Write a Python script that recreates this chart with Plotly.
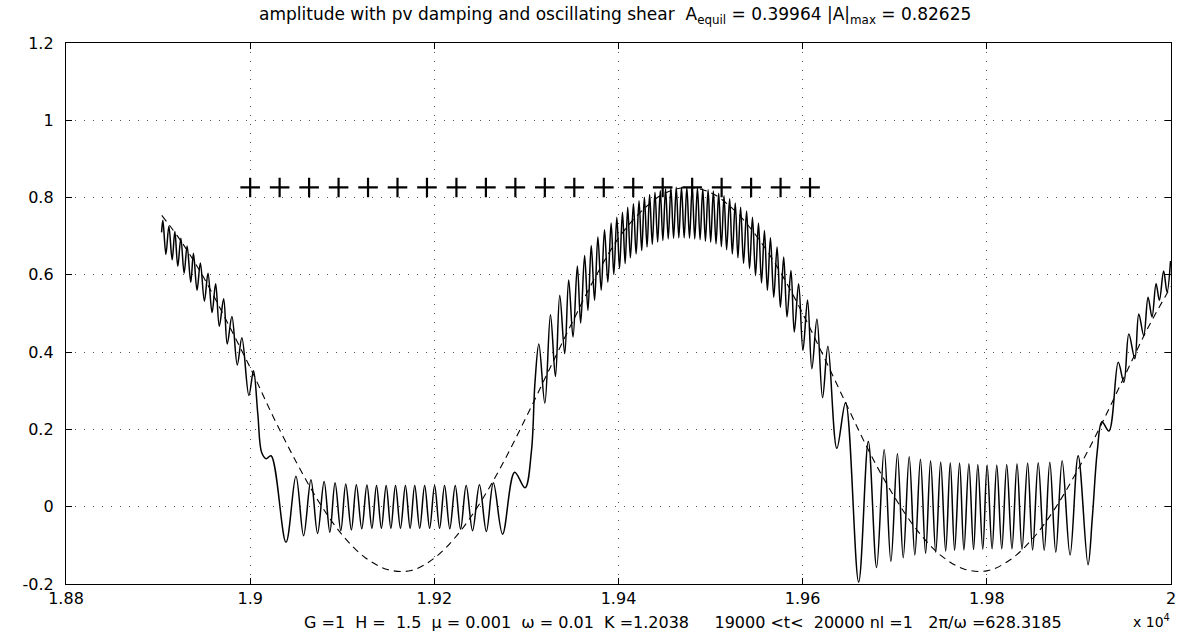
import plotly.graph_objects as go

# ---- data (time in units of 1e4) ----
amp_t = [
    1.89038, 1.89052, 1.89085, 1.89117, 1.89153, 1.89182, 1.89214, 1.89247, 1.89283, 1.89315,
    1.89355, 1.89384, 1.89423, 1.89459, 1.89503, 1.89542, 1.89586, 1.89625, 1.89665, 1.89712,
    1.89751, 1.89802, 1.89860, 1.89910, 1.89986, 1.90036, 1.90083, 1.90125, 1.90173, 1.90227,
    1.90389, 1.90497, 1.90580, 1.90660, 1.90732, 1.90803, 1.90865, 1.90922, 1.90984, 1.91038,
    1.91099, 1.91153, 1.91212, 1.91268, 1.91322, 1.91372, 1.91425, 1.91477, 1.91528, 1.91578,
    1.91632, 1.91686, 1.91737, 1.91787, 1.91841, 1.91895, 1.91949, 1.92003, 1.92057, 1.92111,
    1.92168, 1.92227, 1.92285, 1.92346, 1.92415, 1.92490, 1.92565, 1.92641, 1.92741, 1.92872,
    1.92985, 1.93055, 1.93092, 1.93135, 1.93200, 1.93261, 1.93315, 1.93362, 1.93416, 1.93459,
    1.93506, 1.93553, 1.93589, 1.93632, 1.93668, 1.93704, 1.93740, 1.93776, 1.93812, 1.93848,
    1.93884, 1.93920, 1.93949, 1.93982, 1.94011, 1.94043, 1.94072, 1.94100, 1.94129, 1.94162,
    1.94191, 1.94223, 1.94252, 1.94281, 1.94310, 1.94338, 1.94367, 1.94396, 1.94425, 1.94454,
    1.94482, 1.94511, 1.94540, 1.94569, 1.94598, 1.94627, 1.94655, 1.94684, 1.94713, 1.94742,
    1.94771, 1.94800, 1.94828, 1.94857, 1.94886, 1.94915, 1.94944, 1.94973, 1.95001, 1.95030,
    1.95059, 1.95088, 1.95117, 1.95146, 1.95174, 1.95207, 1.95236, 1.95268, 1.95297, 1.95326,
    1.95358, 1.95391, 1.95423, 1.95455, 1.95488, 1.95520, 1.95553, 1.95585, 1.95617, 1.95650,
    1.95686, 1.95722, 1.95758, 1.95794, 1.95830, 1.95873, 1.95909, 1.95956, 1.96003, 1.96053,
    1.96100, 1.96155, 1.96216, 1.96274, 1.96371, 1.96466, 1.96608, 1.96713, 1.96803, 1.96885,
    1.96958, 1.97029, 1.97092, 1.97157, 1.97218, 1.97279, 1.97335, 1.97389, 1.97445, 1.97499,
    1.97553, 1.97603, 1.97650, 1.97704, 1.97751, 1.97805, 1.97856, 1.97902, 1.97956, 1.98003,
    1.98057, 1.98108, 1.98162, 1.98216, 1.98273, 1.98328, 1.98382, 1.98443, 1.98497, 1.98558,
    1.98623, 1.98684, 1.98749, 1.98818, 1.98904, 1.98992, 1.99099, 1.99146, 1.99200, 1.99250,
    1.99326, 1.99427, 1.99488, 1.99542, 1.99607, 1.99650, 1.99704, 1.99751, 1.99794, 1.99838,
    1.99874, 1.99920, 1.99957, 1.99995,
]
amp_val = [
    0.710, 0.741, 0.653, 0.726, 0.639, 0.712, 0.622, 0.695, 0.604, 0.675,
    0.581, 0.656, 0.560, 0.631, 0.532, 0.604, 0.502, 0.577, 0.467, 0.538,
    0.421, 0.492, 0.367, 0.437, 0.288, 0.352, 0.240, 0.140, 0.124, 0.132,
    -0.092, 0.079, -0.075, 0.070, -0.069, 0.065, -0.066, 0.062, -0.062, 0.059,
    -0.060, 0.057, -0.057, 0.056, -0.056, 0.055, -0.056, 0.055, -0.056, 0.055,
    -0.056, 0.055, -0.056, 0.055, -0.056, 0.055, -0.056, 0.055, -0.056, 0.055,
    -0.057, 0.055, -0.058, 0.055, -0.062, 0.057, -0.064, 0.062, -0.071, 0.089,
    0.049, 0.145, 0.318, 0.421, 0.268, 0.497, 0.337, 0.547, 0.396, 0.587,
    0.439, 0.623, 0.475, 0.650, 0.508, 0.676, 0.534, 0.698, 0.560, 0.717,
    0.581, 0.734, 0.601, 0.749, 0.616, 0.762, 0.629, 0.775, 0.644, 0.784,
    0.654, 0.792, 0.663, 0.801, 0.672, 0.808, 0.679, 0.814, 0.685, 0.818,
    0.689, 0.823, 0.693, 0.825, 0.695, 0.827, 0.696, 0.827, 0.696, 0.827,
    0.695, 0.827, 0.693, 0.825, 0.691, 0.823, 0.687, 0.820, 0.685, 0.817,
    0.680, 0.811, 0.673, 0.805, 0.665, 0.797, 0.654, 0.786, 0.644, 0.775,
    0.630, 0.765, 0.616, 0.749, 0.598, 0.734, 0.579, 0.715, 0.560, 0.696,
    0.542, 0.672, 0.516, 0.646, 0.491, 0.611, 0.452, 0.577, 0.405, 0.535,
    0.357, 0.486, 0.282, 0.415, 0.151, 0.270, -0.195, 0.169, -0.157, 0.148,
    -0.142, 0.137, -0.132, 0.129, -0.125, 0.123, -0.121, 0.119, -0.118, 0.116,
    -0.115, 0.114, -0.113, 0.113, -0.112, 0.111, -0.111, 0.109, -0.110, 0.108,
    -0.109, 0.108, -0.109, 0.109, -0.109, 0.111, -0.110, 0.113, -0.112, 0.114,
    -0.113, 0.115, -0.118, 0.119, -0.125, 0.132, -0.150, -0.027, 0.145, 0.220,
    0.196, 0.374, 0.322, 0.447, 0.383, 0.499, 0.443, 0.542, 0.491, 0.577,
    0.534, 0.610, 0.555, 0.636,
]

equil_t = [
    1.8904, 1.8925, 1.8950, 1.8975, 1.9000, 1.9025, 1.9050, 1.9075, 1.9100, 1.9125,
    1.9150, 1.9175, 1.9200, 1.9225, 1.9250, 1.9275, 1.9300, 1.9325, 1.9350, 1.9375,
    1.9400, 1.9425, 1.9450, 1.9475, 1.9500, 1.9525, 1.9550, 1.9575, 1.9600, 1.9625,
    1.9650, 1.9675, 1.9700, 1.9725, 1.9750, 1.9775, 1.9800, 1.9825, 1.9850, 1.9875,
    1.9900, 1.9925, 1.9950, 1.9975, 2.0000,
]
equil_val = [
    0.754, 0.687, 0.591, 0.478, 0.360, 0.233, 0.116, 0.011, -0.073, -0.132,
    -0.163, -0.165, -0.133, -0.073, 0.011, 0.115, 0.233, 0.356, 0.478, 0.595,
    0.695, 0.765, 0.811, 0.826, 0.813, 0.769, 0.700, 0.610, 0.500, 0.378,
    0.252, 0.130, 0.024, -0.063, -0.126, -0.161, -0.166, -0.138, -0.082, -0.001,
    0.101, 0.216, 0.340, 0.463, 0.570,
]

max_t = [
    1.9000, 1.9032, 1.9064, 1.9096, 1.9128, 1.9160, 1.9192, 1.9224, 1.9256, 1.9288,
    1.9320, 1.9352, 1.9384, 1.9416, 1.9448, 1.9480, 1.9512, 1.9544, 1.9576, 1.9608,
]
amax = 0.82625
max_val = [amax] * len(max_t)

x_ticks = [1.88, 1.9, 1.92, 1.94, 1.96, 1.98, 2.0]
x_ticklabels = ["1.88", "1.9", "1.92", "1.94", "1.96", "1.98", "2"]
y_ticks = [-0.2, 0, 0.2, 0.4, 0.6, 0.8, 1, 1.2]
y_ticklabels = ["-0.2", "0", "0.2", "0.4", "0.6", "0.8", "1", "1.2"]

NB = "\u00a0"
title_text = ("amplitude with pv damping and oscillating shear" + NB * 2 +
              "A<sub>equil</sub> = 0.39964 |A|<sub>max</sub> = 0.82625")
xlabel_text = ("G =1" + NB * 2 + "H =" + NB * 2 + "1.5" + NB * 2 + "\u03bc = 0.001" + NB * 2 +
               "\u03c9 = 0.01" + NB * 2 + "K =1.2038" + NB * 5 + "19000 &lt;t&lt;" + NB * 2 +
               "20000 nl =1" + NB * 3 + "2\u03c0/\u03c9 =628.3185")

FONT = "DejaVu Sans, Liberation Sans, Arial, sans-serif"

fig = go.Figure()
fig.add_trace(go.Scatter(
    x=amp_t, y=amp_val, mode="lines",
    line=dict(color="black", width=1.5, shape="spline", smoothing=1.0),
    hoverinfo="skip", showlegend=False))
fig.add_trace(go.Scatter(
    x=equil_t, y=equil_val, mode="lines",
    line=dict(color="black", width=1.1, dash="7px,5px", shape="spline", smoothing=1.0),
    hoverinfo="skip", showlegend=False))
fig.add_trace(go.Scatter(
    x=max_t, y=max_val, mode="markers",
    marker=dict(symbol="cross-thin", size=14, line=dict(color="black", width=2.2)),
    hoverinfo="skip", showlegend=False))

axis_common = dict(
    showline=True, linecolor="black", linewidth=1.3, mirror="allticks",
    ticks="inside", ticklen=6, tickcolor="black", tickwidth=1,
    showgrid=True, gridcolor="#555555", gridwidth=1, griddash="1px,8px",
    zeroline=False, tickfont=dict(family=FONT, size=16, color="black"),
)

fig.update_xaxes(range=[1.88, 2.0], tickmode="array", tickvals=x_ticks,
                 ticktext=x_ticklabels, ticklabelstandoff=0, **axis_common)
fig.update_yaxes(range=[-0.2, 1.2], tickmode="array", tickvals=y_ticks,
                 ticktext=y_ticklabels, ticklabelstandoff=8, **axis_common)

fig.update_layout(
    width=1187, height=632,
    margin=dict(l=66, r=11, t=43, b=48),
    paper_bgcolor="white", plot_bgcolor="white",
    font=dict(family=FONT, color="black"),
    annotations=[
        dict(text=title_text, xref="paper", yref="paper", x=0.497, y=1.0,
             yshift=14, xanchor="center", yanchor="bottom", showarrow=False,
             font=dict(family=FONT, size=17, color="black")),
        dict(text=xlabel_text, xref="paper", yref="paper", x=0.558, y=0,
             yshift=-27, xanchor="center", yanchor="top", showarrow=False,
             font=dict(family=FONT, size=16, color="black")),
        dict(text="x 10<sup>4</sup>", xref="paper", yref="paper", x=1.0, y=0,
             yshift=-47, xanchor="right", yanchor="bottom", showarrow=False,
             borderpad=0, font=dict(family=FONT, size=14, color="black")),
    ],
)

fig.write_html("out.html", config={"displayModeBar": False},
               post_script="document.body.style.margin='0';document.body.style.padding='0';")
